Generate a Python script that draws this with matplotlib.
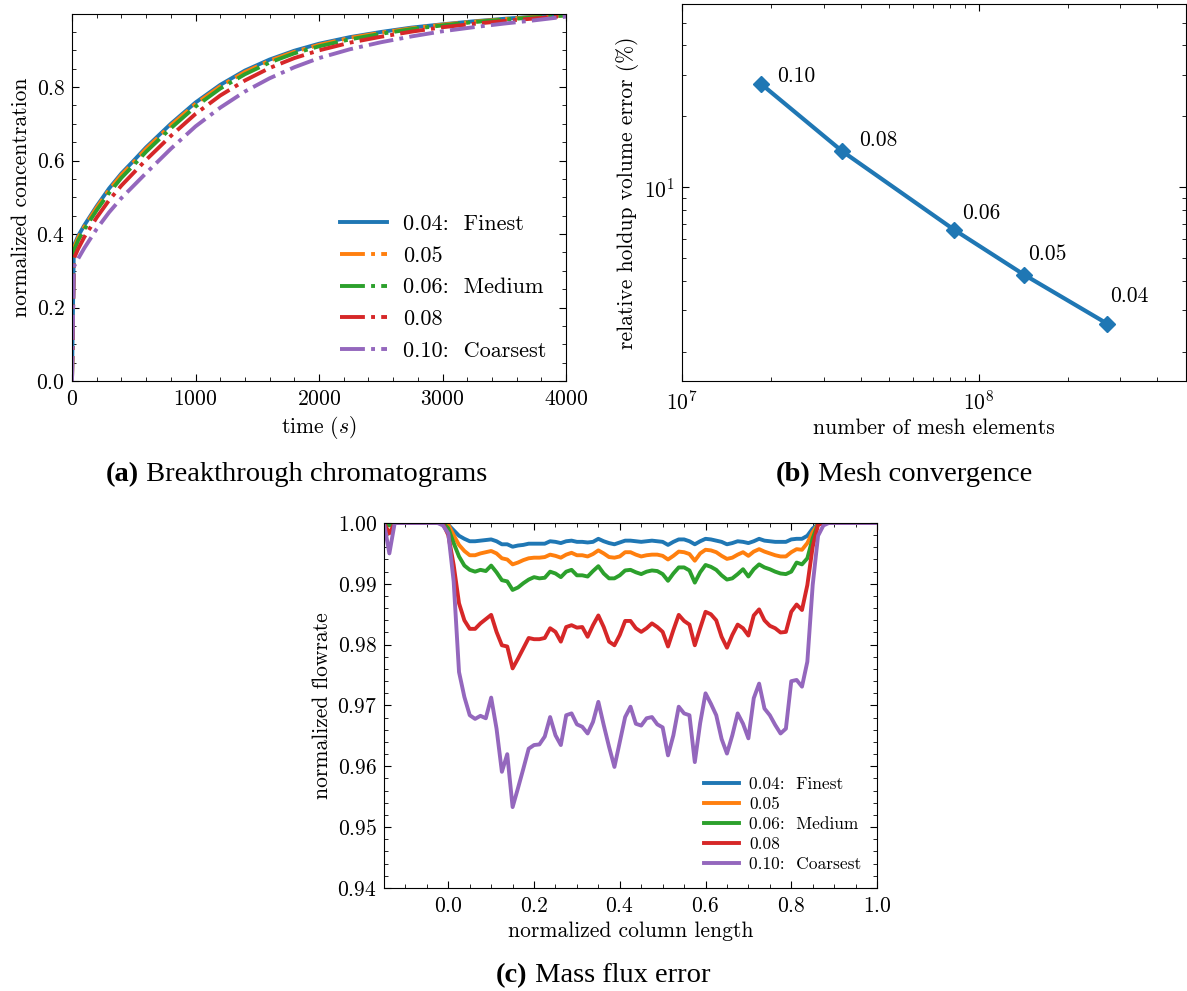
import numpy as np
import matplotlib
matplotlib.use("Agg")
import matplotlib.pyplot as plt
from matplotlib.ticker import MultipleLocator, NullFormatter, LogLocator

plt.rcParams['font.family'] = 'serif'
plt.rcParams['font.serif'] = ['cmr10']
plt.rcParams['mathtext.fontset'] = 'cm'
plt.rcParams['axes.formatter.use_mathtext'] = True
plt.rcParams['axes.unicode_minus'] = False
plt.rcParams['font.size'] = 15.5
plt.rcParams['xtick.direction'] = 'in'
plt.rcParams['ytick.direction'] = 'in'
plt.rcParams['xtick.top'] = True
plt.rcParams['ytick.right'] = True
plt.rcParams['xtick.major.size'] = 5
plt.rcParams['ytick.major.size'] = 5
plt.rcParams['xtick.minor.size'] = 2.8
plt.rcParams['ytick.minor.size'] = 2.8
plt.rcParams['xtick.major.pad'] = 6
plt.rcParams['ytick.major.pad'] = 5

colors = ['#1f77b4', '#ff7f0e', '#2ca02c', '#d62728', '#9467bd']
mesh_labels = ['0.04:  Finest', '0.05', '0.06:  Medium', '0.08', '0.10:  Coarsest']

# (a) breakthrough curves
time_s = [0, 15, 50, 100, 200, 300, 400, 500, 600, 800, 1000, 1200, 1400,
          1600, 1800, 2000, 2250, 2500, 2750, 3000, 3250, 3500, 3750, 4000]
conc_004 = [0, 0.368, 0.395, 0.424, 0.476, 0.524, 0.565, 0.600, 0.636, 0.700, 0.758, 0.806,
            0.845, 0.875, 0.899, 0.918, 0.936, 0.950, 0.962, 0.971, 0.979, 0.986, 0.992, 0.996]
conc_005 = [0, 0.362, 0.390, 0.420, 0.472, 0.520, 0.561, 0.596, 0.632, 0.696, 0.754, 0.802,
            0.841, 0.872, 0.896, 0.915, 0.934, 0.948, 0.960, 0.970, 0.978, 0.985, 0.991, 0.996]
conc_006 = [0, 0.355, 0.383, 0.413, 0.465, 0.512, 0.553, 0.588, 0.624, 0.688, 0.747, 0.796,
            0.835, 0.867, 0.892, 0.911, 0.930, 0.945, 0.958, 0.968, 0.977, 0.984, 0.990, 0.995]
conc_008 = [0, 0.333, 0.360, 0.392, 0.445, 0.492, 0.532, 0.567, 0.602, 0.667, 0.727, 0.777,
            0.818, 0.852, 0.879, 0.900, 0.921, 0.937, 0.951, 0.963, 0.972, 0.980, 0.987, 0.994]
conc_010 = [0, 0.311, 0.333, 0.362, 0.414, 0.459, 0.498, 0.532, 0.566, 0.632, 0.693, 0.744,
            0.788, 0.824, 0.854, 0.879, 0.903, 0.922, 0.938, 0.952, 0.963, 0.973, 0.982, 0.992]

# (b) mesh convergence
mesh_size = ['0.10', '0.08', '0.06', '0.05', '0.04']
n_elements = [1.85e7, 3.47e7, 8.28e7, 1.42e8, 2.71e8]
holdup_err = [27.4, 14.2, 6.58, 4.25, 2.63]
label_offsets = [(11.5, 6), (12, 8), (5.5, 12), (3, 14.5), (2, 20)]

# (c) flowrate along the column
col_length = np.linspace(-0.15, 1.0, 93)
flow_004 = [1.0] * 12 + [
    0.9997, 0.9988, 0.9979, 0.9974, 0.9970, 0.9970, 0.9971, 0.9972, 0.9973, 0.9970,
    0.9965, 0.9965, 0.9961, 0.9963, 0.9964, 0.9966, 0.9966, 0.9966, 0.9966, 0.9970,
    0.9969, 0.9967, 0.9970, 0.9971, 0.9969, 0.9969, 0.9968,
    0.9969, 0.9974, 0.9970, 0.9967, 0.9965, 0.9968, 0.9971, 0.9971, 0.9970, 0.9969,
    0.9970, 0.9971, 0.9970, 0.9969, 0.9964, 0.9969, 0.9973, 0.9973, 0.9970, 0.9965,
    0.9970, 0.9974, 0.9973, 0.9971, 0.9969, 0.9965,
    0.9967, 0.9970, 0.9969, 0.9967, 0.9970, 0.9974, 0.9971, 0.9970, 0.9969, 0.9969,
    0.9969, 0.9973, 0.9974, 0.9974, 0.9979, 0.9991, 0.9998] + [1.0] * 11
flow_005 = [1.0, 0.9999] + [1.0] * 10 + [
    0.9997, 0.9980, 0.9964, 0.9954, 0.9947, 0.9947, 0.9950, 0.9952, 0.9954, 0.9950,
    0.9942, 0.9940, 0.9932, 0.9935, 0.9939, 0.9942, 0.9943, 0.9943, 0.9944, 0.9948,
    0.9946, 0.9943, 0.9948, 0.9951, 0.9947, 0.9947, 0.9945,
    0.9949, 0.9955, 0.9950, 0.9944, 0.9943, 0.9945, 0.9952, 0.9952, 0.9948, 0.9945,
    0.9947, 0.9948, 0.9948, 0.9946, 0.9940, 0.9946, 0.9953, 0.9952, 0.9949, 0.9938,
    0.9950, 0.9956, 0.9955, 0.9952, 0.9946, 0.9941,
    0.9943, 0.9948, 0.9952, 0.9946, 0.9953, 0.9957, 0.9953, 0.9950, 0.9947, 0.9945,
    0.9945, 0.9952, 0.9957, 0.9956, 0.9967, 0.9985, 0.9998] + [1.0] * 11
flow_006 = [1.0, 0.9996] + [1.0] * 10 + [
    0.9991, 0.9967, 0.9945, 0.9930, 0.9923, 0.9920, 0.9923, 0.9921, 0.9930, 0.9919,
    0.9906, 0.9904, 0.9890, 0.9894, 0.9901, 0.9907, 0.9911, 0.9909, 0.9910, 0.9920,
    0.9917, 0.9911, 0.9920, 0.9923, 0.9914, 0.9914, 0.9912,
    0.9921, 0.9929, 0.9917, 0.9909, 0.9909, 0.9914, 0.9922, 0.9923, 0.9919, 0.9916,
    0.9920, 0.9922, 0.9921, 0.9916, 0.9905, 0.9917, 0.9927, 0.9927, 0.9922, 0.9902,
    0.9919, 0.9931, 0.9928, 0.9923, 0.9914, 0.9907,
    0.9909, 0.9916, 0.9924, 0.9912, 0.9924, 0.9932, 0.9927, 0.9924, 0.9920, 0.9917,
    0.9916, 0.9920, 0.9935, 0.9932, 0.9942, 0.9975, 0.9998] + [1.0] * 11
flow_008 = [1.0, 0.9983] + [1.0] * 9 + [0.9999,
    0.9980, 0.9931, 0.9868, 0.9840, 0.9826, 0.9826, 0.9835, 0.9842, 0.9849, 0.9821,
    0.9799, 0.9797, 0.9761, 0.9777, 0.9794, 0.9811, 0.9809, 0.9809, 0.9811, 0.9827,
    0.9821, 0.9805, 0.9829, 0.9832, 0.9828, 0.9829, 0.9813,
    0.9832, 0.9848, 0.9829, 0.9805, 0.9799, 0.9816, 0.9839, 0.9839, 0.9827, 0.9821,
    0.9827, 0.9835, 0.9829, 0.9821, 0.9797, 0.9824, 0.9849, 0.9839, 0.9833, 0.9799,
    0.9827, 0.9854, 0.9850, 0.9840, 0.9813, 0.9795,
    0.9816, 0.9833, 0.9827, 0.9815, 0.9848, 0.9858, 0.9840, 0.9831, 0.9827, 0.9820,
    0.9821, 0.9854, 0.9866, 0.9857, 0.9898, 0.9961, 0.9997] + [1.0] * 11
flow_010 = [1.0, 0.9950] + [1.0] * 9 + [0.9996,
    0.9983, 0.9904, 0.9755, 0.9714, 0.9684, 0.9678, 0.9683, 0.9679, 0.9713, 0.9662,
    0.9591, 0.9620, 0.9533, 0.9564, 0.9596, 0.9629, 0.9635, 0.9636, 0.9649, 0.9681,
    0.9651, 0.9635, 0.9684, 0.9687, 0.9669, 0.9665, 0.9654,
    0.9673, 0.9706, 0.9668, 0.9632, 0.9599, 0.9640, 0.9681, 0.9698, 0.9670, 0.9667,
    0.9679, 0.9681, 0.9669, 0.9664, 0.9618, 0.9651, 0.9698, 0.9687, 0.9684, 0.9607,
    0.9671, 0.9720, 0.9703, 0.9684, 0.9645, 0.9621,
    0.9651, 0.9687, 0.9670, 0.9646, 0.9712, 0.9736, 0.9695, 0.9684, 0.9668, 0.9654,
    0.9662, 0.9740, 0.9742, 0.9731, 0.9772, 0.9898, 0.9979, 0.9996] + [1.0] * 10

W, H = 1187, 991
fig = plt.figure(figsize=(W / 100, H / 100), dpi=100)


def px_axes(left, top, right, bottom):
    return fig.add_axes([left / W, 1 - bottom / H, (right - left) / W, (bottom - top) / H])


# ---- (a) ----
ax1 = px_axes(72, 14, 566, 381)
conc = [conc_004, conc_005, conc_006, conc_008, conc_010]
for i, c in enumerate(conc):
    ls = '-' if i == 0 else '-.'
    ax1.plot(time_s, c, ls, color=colors[i], lw=2.8, label=mesh_labels[i])
ax1.set_xlim(0, 4000)
ax1.set_ylim(0, 0.999)
ax1.xaxis.set_major_locator(MultipleLocator(1000))
ax1.xaxis.set_minor_locator(MultipleLocator(200))
ax1.yaxis.set_major_locator(MultipleLocator(0.2))
ax1.yaxis.set_minor_locator(MultipleLocator(0.05))
ax1.set_xlabel('time ($s$)')
ax1.set_ylabel('normalized concentration')
ax1.legend(loc='lower right', frameon=False, fontsize=16, handlelength=2.1,
           handletextpad=0.7, labelspacing=0.55, borderaxespad=0.5)

# ---- (b) ----
ax2 = px_axes(682, 4, 1186, 381)
ax2.plot(n_elements, holdup_err, '-D', color=colors[0], lw=3, ms=8)
for lab, xv, yv, off in zip(mesh_size, n_elements, holdup_err, label_offsets):
    ax2.annotate(lab, (xv, yv), xytext=off, textcoords='offset points',
                 ha='left', va='center', fontsize=15.5)
ax2.set_xscale('log')
ax2.set_yscale('log')
ax2.set_xlim(1e7, 5e8)
ax2.set_ylim(1.5, 60)
ax2.yaxis.set_minor_locator(LogLocator(base=10, subs=np.arange(2, 10)))
ax2.yaxis.set_minor_formatter(NullFormatter())
ax2.xaxis.set_minor_formatter(NullFormatter())
ax2.set_xlabel('number of mesh elements')
ax2.set_ylabel('relative holdup volume error (%)')

# ---- (c) ----
ax3 = px_axes(384, 523, 877, 888)
flows = [flow_004, flow_005, flow_006, flow_008, flow_010]
for i, f in enumerate(flows):
    ax3.plot(col_length, f, color=colors[i], lw=2.8, label=mesh_labels[i])
ax3.set_xlim(-0.15, 1.0)
ax3.set_ylim(0.94, 1.0)
ax3.xaxis.set_major_locator(MultipleLocator(0.2))
ax3.xaxis.set_minor_locator(MultipleLocator(0.05))
ax3.yaxis.set_major_locator(MultipleLocator(0.01))
ax3.yaxis.set_minor_locator(MultipleLocator(0.002))
ax3.set_xlabel('normalized column length')
ax3.set_ylabel('normalized flowrate')
ax3.legend(loc='lower right', frameon=False, fontsize=12.5, handlelength=2.0,
           handletextpad=0.6, labelspacing=0.28, borderaxespad=0.5)

# sub-figure captions
cap_size = 20.5
for x0, y0, tag, text in [(106, 481, '(a)', ' Breakthrough chromatograms'),
                          (776, 481, '(b)', ' Mesh convergence'),
                          (496, 982, '(c)', ' Mass flux error')]:
    t = fig.text(x0 / W, 1 - y0 / H, tag, family='Liberation Serif', size=cap_size,
                 weight='bold', ha='left', va='baseline')
    ax1.annotate(text, xy=(1, 0), xycoords=t, va='bottom', ha='left',
                 fontfamily='Liberation Serif', fontsize=cap_size, annotation_clip=False)

fig.savefig('out.png', dpi=100)
